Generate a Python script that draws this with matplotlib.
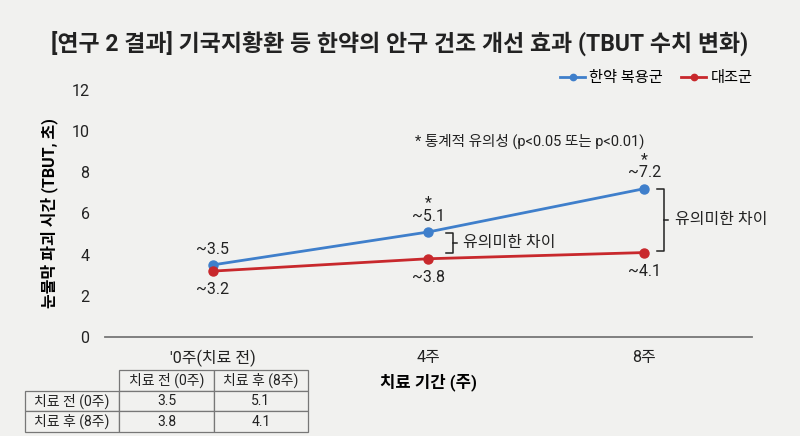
import matplotlib
matplotlib.use("Agg")
import matplotlib.pyplot as plt

plt.rcParams['font.family'] = ['Roboto', 'Noto Sans CJK KR', 'DejaVu Sans']

# data
weeks = ["'0주(치료 전)", "4주", "8주"]
herbal = [3.5, 5.1, 7.2]
control = [3.2, 3.8, 4.1]
significant = [False, True, True]

table_rows = ["치료 전 (0주)", "치료 후 (8주)"]
table_cols = ["치료 전 (0주)", "치료 후 (8주)"]
table_vals = [[3.5, 5.1], [3.8, 4.1]]

blue = '#3f7fcb'
red = '#c8282c'
bg = '#f1f1ef'

fig = plt.figure(figsize=(8, 4.36), dpi=100, facecolor=bg)
ax = fig.add_axes([0.131, 0.227, 0.809, 0.567], facecolor=bg)

x = list(range(len(weeks)))
ax.plot(x, herbal, '-o', color=blue, lw=2, ms=6.5, label='한약 복용군')
ax.plot(x, control, '-o', color=red, lw=2, ms=6.5, label='대조군')

ax.set_xlim(-0.5, 2.5)
ax.set_ylim(0, 12)
ax.set_yticks(range(0, 13, 2))
ax.set_xticks(x)
ax.set_xticklabels(weeks)
ax.tick_params(length=0, labelsize=11.5, colors='#222222')
ax.tick_params(axis='y', pad=11)
ax.tick_params(axis='x', pad=9)
for s in ['top', 'right', 'left']:
    ax.spines[s].set_visible(False)
ax.spines['bottom'].set_color('#777777')
ax.spines['bottom'].set_linewidth(1.3)

ax.set_xlabel('치료 기간 (주)', fontsize=12, fontweight='bold', labelpad=5)
ax.set_ylabel('눈물막 파괴 시간 (TBUT, 초)', fontsize=11.5, fontweight='bold', labelpad=10)

# value labels (star above the significant ones)
for i in x:
    top_label = f'~{herbal[i]}'
    if significant[i]:
        top_label = '*\n' + top_label
    ax.annotate(top_label, (i, herbal[i]), xytext=(0, 6), textcoords='offset points',
                ha='center', va='bottom', fontsize=11.5, color='#222222',
                linespacing=0.85, multialignment='center')
    ax.annotate(f'~{control[i]}', (i, control[i]), xytext=(0, -8), textcoords='offset points',
                ha='center', va='top', fontsize=11.5, color='#222222')

ax.text(1.47, 9.5, '* 통계적 유의성 (p<0.05 또는 p<0.01)', ha='center', va='center',
        fontsize=10.5, color='#222222')


def bracket(xc, top, bottom, text):
    w = 0.032
    mid = (top + bottom) / 2
    ax.plot([xc, xc + w, xc + w, xc], [top, top, bottom, bottom], color='#222222', lw=1.1)
    ax.plot([xc + w, xc + w + 0.02], [mid, mid], color='#222222', lw=1.1)
    ax.text(xc + w + 0.05, mid, text, ha='left', va='center', fontsize=11.5, color='#222222')


bracket(1.08, herbal[1] - 0.05, control[1] + 0.3, '유의미한 차이')
bracket(2.06, herbal[2], control[2] + 0.1, '유의미한 차이')

leg = ax.legend(loc='upper right', bbox_to_anchor=(1.022, 1.13), ncol=2, frameon=False,
                fontsize=11, handlelength=1.6, handletextpad=0.3, columnspacing=1.2,
                markerscale=0.7)

fig.suptitle('[연구 2 결과] 기국지황환 등 한약의 안구 건조 개선 효과 (TBUT 수치 변화)',
             x=0.5, y=0.93, fontsize=16.5, fontweight='bold', color='#222222')

# table
tax = fig.add_axes([0.031, 0.009, 0.354, 0.142])
tax.axis('off')
cells = [[''] + table_cols] + [[r] + [str(v) for v in vals] for r, vals in zip(table_rows, table_vals)]
tbl = tax.table(cellText=cells, cellLoc='center', bbox=[0, 0, 1, 1])
tbl.auto_set_font_size(False)
for (r, c), cell in tbl.get_celld().items():
    cell.set_facecolor(bg)
    cell.set_edgecolor('#777777')
    cell.set_linewidth(0.9)
    cell.get_text().set_fontsize(10)
    cell.get_text().set_color('#222222')
    if r == 0 and c == 0:
        cell.visible_edges = ''

fig.savefig('out.png', dpi=100, facecolor=bg)
